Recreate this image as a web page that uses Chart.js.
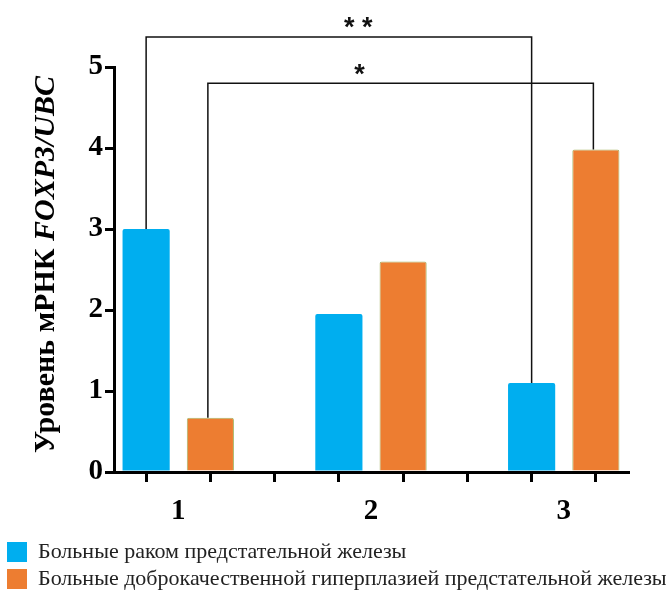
<!DOCTYPE html>
<html><head><meta charset="utf-8">
<style>html,body{margin:0;padding:0;background:#fff;} #wrap{width:672px;height:594px;position:relative;overflow:hidden;}</style>
<script src="https://cdn.jsdelivr.net/npm/chart.js@4.4.1/dist/chart.umd.min.js"></script>
</head><body><div id="wrap"><canvas id="c" width="672" height="594"></canvas></div>
<script>
const groups = ['1', '2', '3'];
const cancer = [3.00, 1.95, 1.10];
const bph = [0.67, 2.60, 3.98];
const yTicks = [0, 1, 2, 3, 4, 5];
const seriesNames = ['Больные раком предстательной железы', 'Больные доброкачественной гиперплазией предстательной железы'];
const yTitleMain = 'Уровень мРНК ';
const yTitleGene = 'FOXP3/UBC';
// significance brackets: [group, series] endpoints, bracket level and label level (value units), label x (slot units)
const bracketFrom = [[0, 0], [0, 1]];
const bracketTo = [[2, 0], [2, 1]];
const bracketLevel = [5.37, 4.80];
const bracketLabel = ['* *', '*'];
const bracketLabelY = [5.576, 4.99];
const bracketLabelX = [3.3, 3.32];

const BLUE = '#00AEEF', ORANGE = '#ED7D31';
const SERIF = '"Liberation Serif", "Times New Roman", serif';

// build slots: each group has 2 bar slots, and a gap slot between groups
const slotLabels = [], blueSlots = [], orangeSlots = [];
groups.forEach((g, i) => {
  slotLabels.push(g, '');
  blueSlots.push(cancer[i], null);
  orangeSlots.push(null, bph[i]);
  if (i < groups.length - 1) { slotLabels.push(''); blueSlots.push(null); orangeSlots.push(null); }
});
const slotIndex = (g, s) => g * 3 + s;

const overlay = {
  id: 'overlay',
  afterDraw(chart) {
    const ctx = chart.ctx, x = chart.scales.x, y = chart.scales.y;
    // brackets
    ctx.save();
    ctx.strokeStyle = '#111';
    ctx.lineWidth = 1.5;
    for (let k = 0; k < bracketFrom.length; k++) {
      const a = chart.getDatasetMeta(bracketFrom[k][1]).data[slotIndex(bracketFrom[k][0], bracketFrom[k][1])];
      const b = chart.getDatasetMeta(bracketTo[k][1]).data[slotIndex(bracketTo[k][0], bracketTo[k][1])];
      const off = bracketFrom[k][1] === 1 ? -2.5 : 0;
      const ly = y.getPixelForValue(bracketLevel[k]);
      ctx.beginPath();
      ctx.moveTo(a.x + off, a.y);
      ctx.lineTo(a.x + off, ly);
      ctx.lineTo(b.x + off, ly);
      ctx.lineTo(b.x + off, b.y);
      ctx.stroke();
      const size = 27;
      ctx.font = 'bold ' + size + 'px "Liberation Sans", Arial, sans-serif';
      ctx.fillStyle = '#111';
      ctx.textAlign = 'center';
      ctx.textBaseline = 'alphabetic';
      ctx.fillText(bracketLabel[k], x.getPixelForValue(bracketLabelX[k]), y.getPixelForValue(bracketLabelY[k]) + 0.58 * size);
    }
    ctx.restore();
    // y axis title
    ctx.save();
    const fs = 30;
    const f1 = 'bold ' + fs + 'px ' + SERIF;
    const f2 = 'italic bold ' + fs + 'px ' + SERIF;
    ctx.font = f1; const w1 = ctx.measureText(yTitleMain).width;
    ctx.font = f2; const w2 = ctx.measureText(yTitleGene).width;
    const cy = (chart.chartArea.top + chart.chartArea.bottom) / 2 - 5;
    ctx.translate(46, cy);
    ctx.rotate(-Math.PI / 2);
    ctx.fillStyle = '#000';
    ctx.textBaseline = 'middle';
    ctx.textAlign = 'left';
    const start = -(w1 + w2) / 2;
    ctx.font = f1; ctx.fillText(yTitleMain, start, 0);
    ctx.font = f2; ctx.fillText(yTitleGene, start + w1, 0);
    ctx.restore();
  }
};

new Chart(document.getElementById('c'), {
  type: 'bar',
  data: {
    labels: slotLabels,
    datasets: [
      { label: seriesNames[0], data: blueSlots, backgroundColor: BLUE, borderColor: '#3CC0F2', borderWidth: 0, borderRadius: 2, borderSkipped: 'bottom' },
      { label: seriesNames[1], data: orangeSlots, backgroundColor: ORANGE, borderColor: '#A8B86A', borderWidth: 1, borderRadius: 2, borderSkipped: 'bottom' }
    ]
  },
  options: {
    responsive: false,
    animation: false,
    devicePixelRatio: 1,
    layout: { padding: { top: 67, left: 2, right: 0, bottom: -6 } },
    datasets: { bar: { barPercentage: 0.734, categoryPercentage: 1, skipNull: true } },
    plugins: {
      tooltip: { enabled: false },
      legend: {
        position: 'bottom',
        align: 'start',
        labels: {
          boxWidth: 20, boxHeight: 20, padding: 5,
          color: '#222',
          font: { family: SERIF, size: 22 },
          generateLabels(chart) {
            return Chart.defaults.plugins.legend.labels.generateLabels(chart).map(l => Object.assign(l, { lineWidth: 0, strokeStyle: 'rgba(0,0,0,0)' }));
          }
        }
      }
    },
    scales: {
      x: {
        offset: true,
        grid: { offset: false, drawOnChartArea: false, drawTicks: true, tickLength: 10, lineWidth: 3, color: '#000' },
        border: { display: true, width: 3, color: '#000' },
        ticks: {
          autoSkip: false, maxRotation: 0, padding: 12, labelOffset: 32,
          color: '#000', font: { family: SERIF, size: 29, weight: 'bold' },
          callback: (v, i) => slotLabels[i]
        },
        afterFit(scale) { scale.height = 64; }
      },
      y: {
        min: 0, max: 5,
        afterBuildTicks(scale) { scale.ticks = yTicks.map(v => ({ value: v })); },
        grid: { drawOnChartArea: false, drawTicks: true, tickLength: 9, lineWidth: 3, color: '#000' },
        border: { display: true, width: 3, color: '#000' },
        ticks: { padding: 2, color: '#000', font: { family: SERIF, size: 29, weight: 'bold' } },
        afterFit(scale) { scale.width = 112; }
      },
      spacer: {
        position: 'right', min: 0, max: 1,
        grid: { display: false }, border: { display: false }, ticks: { display: false },
        afterFit(scale) { scale.width = 44; }
      }
    }
  },
  plugins: [overlay]
});
</script></body></html>
